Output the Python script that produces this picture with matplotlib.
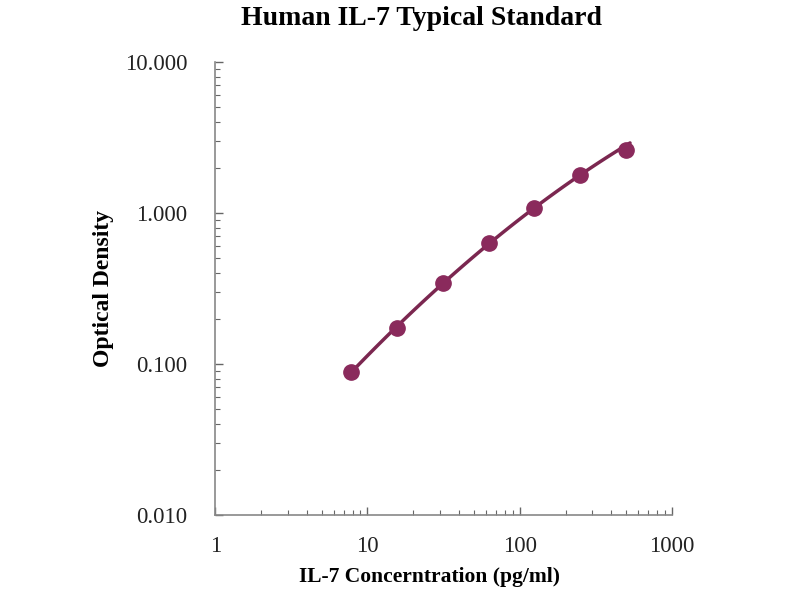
import numpy as np
import matplotlib
matplotlib.use("Agg")
import matplotlib.pyplot as plt
from matplotlib.ticker import LogLocator, FixedLocator, FixedFormatter, NullFormatter

concentration = [7.8, 15.6, 31.25, 62.5, 125, 250, 500]
optical_density = [0.089, 0.172, 0.343, 0.632, 1.08, 1.78, 2.60]
x_ticks = [1, 10, 100, 1000]
x_tick_labels = ["1", "10", "100", "1000"]
y_ticks = [0.01, 0.1, 1, 10]
y_tick_labels = ["0.010", "0.100", "1.000", "10.000"]

plt.rcParams['font.family'] = ['Liberation Serif', 'DejaVu Serif']

fig = plt.figure(figsize=(8, 6), dpi=100)
ax = fig.add_axes([0.269, 0.1417, 0.571, 0.755])

marker_color = "#8a2a5c"
line_color = "#7b2750"

xs = np.array(concentration)
ys = np.array(optical_density)
lx, ly = np.log10(xs), np.log10(ys)
# standard curve fitted on the first six standards (log-log, 2nd order)
coef = np.polyfit(lx[:-1], ly[:-1], 2)
xfit = np.logspace(np.log10(xs[0]), np.log10(xs[-1] * 1.06), 100)
yfit = 10 ** np.polyval(coef, np.log10(xfit))
ax.plot(xfit, yfit, color=line_color, lw=2.5, zorder=2, solid_capstyle='round')
ax.plot(xs, ys, 'o', color=marker_color, ms=11, zorder=3)

ax.set_xscale('log')
ax.set_yscale('log')
ax.set_xlim(1, 1000)
ax.set_ylim(0.01, 10)

ax.xaxis.set_major_locator(FixedLocator(x_ticks))
ax.xaxis.set_major_formatter(FixedFormatter(x_tick_labels))
ax.yaxis.set_major_locator(FixedLocator(y_ticks))
ax.yaxis.set_major_formatter(FixedFormatter(y_tick_labels))
ax.xaxis.set_minor_locator(LogLocator(base=10, subs=np.arange(2, 10)))
ax.yaxis.set_minor_locator(LogLocator(base=10, subs=np.arange(2, 10)))
ax.xaxis.set_minor_formatter(NullFormatter())
ax.yaxis.set_minor_formatter(NullFormatter())

for s in ['top', 'right']:
    ax.spines[s].set_visible(False)
for s in ['left', 'bottom']:
    ax.spines[s].set_color('#888888')
    ax.spines[s].set_linewidth(1.2)

ax.tick_params(axis='both', which='both', direction='in', colors='#666666')
ax.tick_params(axis='both', which='major', length=6, width=1)
ax.tick_params(axis='both', which='minor', length=3.5, width=0.8)
ax.tick_params(axis='x', which='major', pad=15, labelsize=16.5, labelcolor='#222222')
ax.tick_params(axis='y', which='major', pad=20, labelsize=16.5, labelcolor='#222222')

ax.set_xlabel("IL-7 Concerntration (pg/ml)", fontsize=15.5, fontweight='bold', labelpad=7, x=0.47)
ax.set_ylabel("Optical Density", fontsize=17, fontweight='bold', labelpad=8)
fig.suptitle("Human IL-7 Typical Standard", fontsize=20, fontweight='bold', x=0.527, y=0.99)

fig.savefig("out.png", dpi=100, facecolor='white')
